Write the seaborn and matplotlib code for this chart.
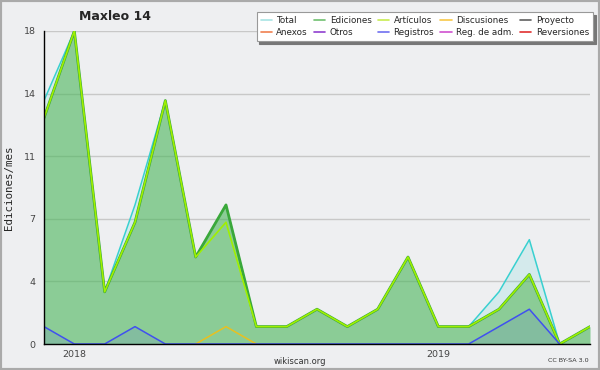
import numpy as np
import matplotlib
matplotlib.use('Agg')
import matplotlib.pyplot as plt
import seaborn as sns
from matplotlib.lines import Line2D
from matplotlib.patches import Rectangle

# meses desde dic 2017 hasta jun 2019
meses = list(range(19))
total = [14, 18, 3, 8, 14, 5, 8, 1, 1, 2, 1, 2, 5, 1, 1, 3, 6, 0, 1]
ediciones = [13, 18, 3, 7, 14, 5, 8, 1, 1, 2, 1, 2, 5, 1, 1, 2, 4, 0, 1]
articulos = [13, 18, 3, 7, 14, 5, 7, 1, 1, 2, 1, 2, 5, 1, 1, 2, 4, 0, 1]
discusiones = [0, 0, 0, 0, 0, 0, 1, 0, 0, 0, 0, 0, 0, 0, 0, 0, 0, 0, 0]
registros = [1, 0, 0, 1, 0, 0, 0, 0, 0, 0, 0, 0, 0, 0, 0, 1, 2, 0, 0]
anios = ['2018', '2019']
anios_pos = [1, 13]

leyenda = ['Total', 'Anexos', 'Ediciones', 'Otros', 'Artículos', 'Registros',
           'Discusiones', 'Reg. de adm.', 'Proyecto', 'Reversiones']
colores_leyenda = ['#a8e4e4', '#f08050', '#70c070', '#9040d0', '#c8ec50', '#7070f0',
                   '#f8c848', '#d050d0', '#606060', '#e03030']


def ocultar_ceros(v):
    # no dibujar tramos 0-0
    out = []
    for i, x in enumerate(v):
        prev = v[i - 1] if i > 0 else 0
        nxt = v[i + 1] if i < len(v) - 1 else 0
        out.append(np.nan if (x == 0 and prev == 0 and nxt == 0) else x)
    return np.array(out, dtype=float)


bg = '#eeeff1'
sns.set_style('white')
plt.rcParams['font.family'] = ['DejaVu Sans']

fig = plt.figure(figsize=(6, 3.7), dpi=100, facecolor=bg)
ax = fig.add_axes([44 / 600, 26 / 370, 546 / 600, 313 / 370])
ax.set_facecolor(bg)

# total
ax.fill_between(meses, total, color='#40d0d0', alpha=0.15, lw=0)
sns.lineplot(x=meses, y=total, ax=ax, color='#38d0d0', lw=1.1)
# ediciones
ax.fill_between(meses, ediciones, color='#50b450', alpha=0.55, lw=0)
sns.lineplot(x=meses, y=ediciones, ax=ax, color='#3aa83a', lw=2)
sns.lineplot(x=meses, y=articulos, ax=ax, color='#a0f000', lw=1.2)
# discusiones
sns.lineplot(x=meses, y=ocultar_ceros(discusiones), ax=ax, color='#e8c020', lw=1.1)
# registros
reg = ocultar_ceros(registros)
ax.fill_between(meses, reg, color='#4040f0', alpha=0.1, lw=0)
sns.lineplot(x=meses, y=reg, ax=ax, color='#4050f0', lw=1.1)

ax.set_xlim(0, 18)
ax.set_ylim(0, 18)
ax.set_yticks([0, 3.6, 7.2, 10.8, 14.4, 18])
ax.set_yticklabels(['0', '4', '7', '11', '14', '18'])
ax.set_yticks(np.arange(0, 18.01, 0.9), minor=True)
ax.set_xticks(meses)
ax.set_xticklabels([anios[anios_pos.index(m)] if m in anios_pos else '' for m in meses])
ax.tick_params(axis='both', which='both', direction='out', color='black',
               labelsize=6.8, labelcolor='#444444')
ax.tick_params(axis='y', which='major', length=5, pad=1)
ax.tick_params(axis='y', which='minor', length=3)
ax.tick_params(axis='x', length=4, pad=0.5)
ax.grid(axis='y', which='major', color='#c8c8c8', lw=1)
ax.set_axisbelow(True)
for s in ['top', 'right']:
    ax.spines[s].set_visible(False)
for s in ['left', 'bottom']:
    ax.spines[s].set_color('black')
    ax.spines[s].set_linewidth(1)

ax.set_ylabel('Ediciones/mes', fontsize=7.8, family='DejaVu Sans Mono', labelpad=7)
fig.text(115 / 600, 1 - 17 / 370, 'Maxleo 14', ha='center', va='center',
         fontsize=9, fontweight='bold')
fig.text(300 / 600, 1 - 361 / 370, 'wikiscan.org', ha='center', va='center',
         fontsize=6, color='#333333')
fig.text(589 / 600, 1 - 361 / 370, 'CC BY-SA 3.0', ha='right', va='center',
         fontsize=4.6, color='#333333')

handles = [Line2D([], [], color=c, lw=1.2) for c in colores_leyenda]
lg = fig.legend(handles, leyenda, ncol=5, loc='upper right',
                bbox_to_anchor=(593 / 600, 1 - 12 / 370), fontsize=6.3,
                frameon=True, fancybox=False, shadow={'color': '#777777', 'alpha': 1},
                handlelength=1.3, handletextpad=0.5, columnspacing=0.7,
                labelspacing=0.35, borderpad=0.45, borderaxespad=0)
lg.get_frame().set_edgecolor('#999999')
lg.get_frame().set_linewidth(0.8)

fig.patches.append(Rectangle((0, 0), 1, 1, transform=fig.transFigure, fill=False,
                             edgecolor='#aaaaaa', lw=3))

fig.savefig('out.png', dpi=100, facecolor=bg)
